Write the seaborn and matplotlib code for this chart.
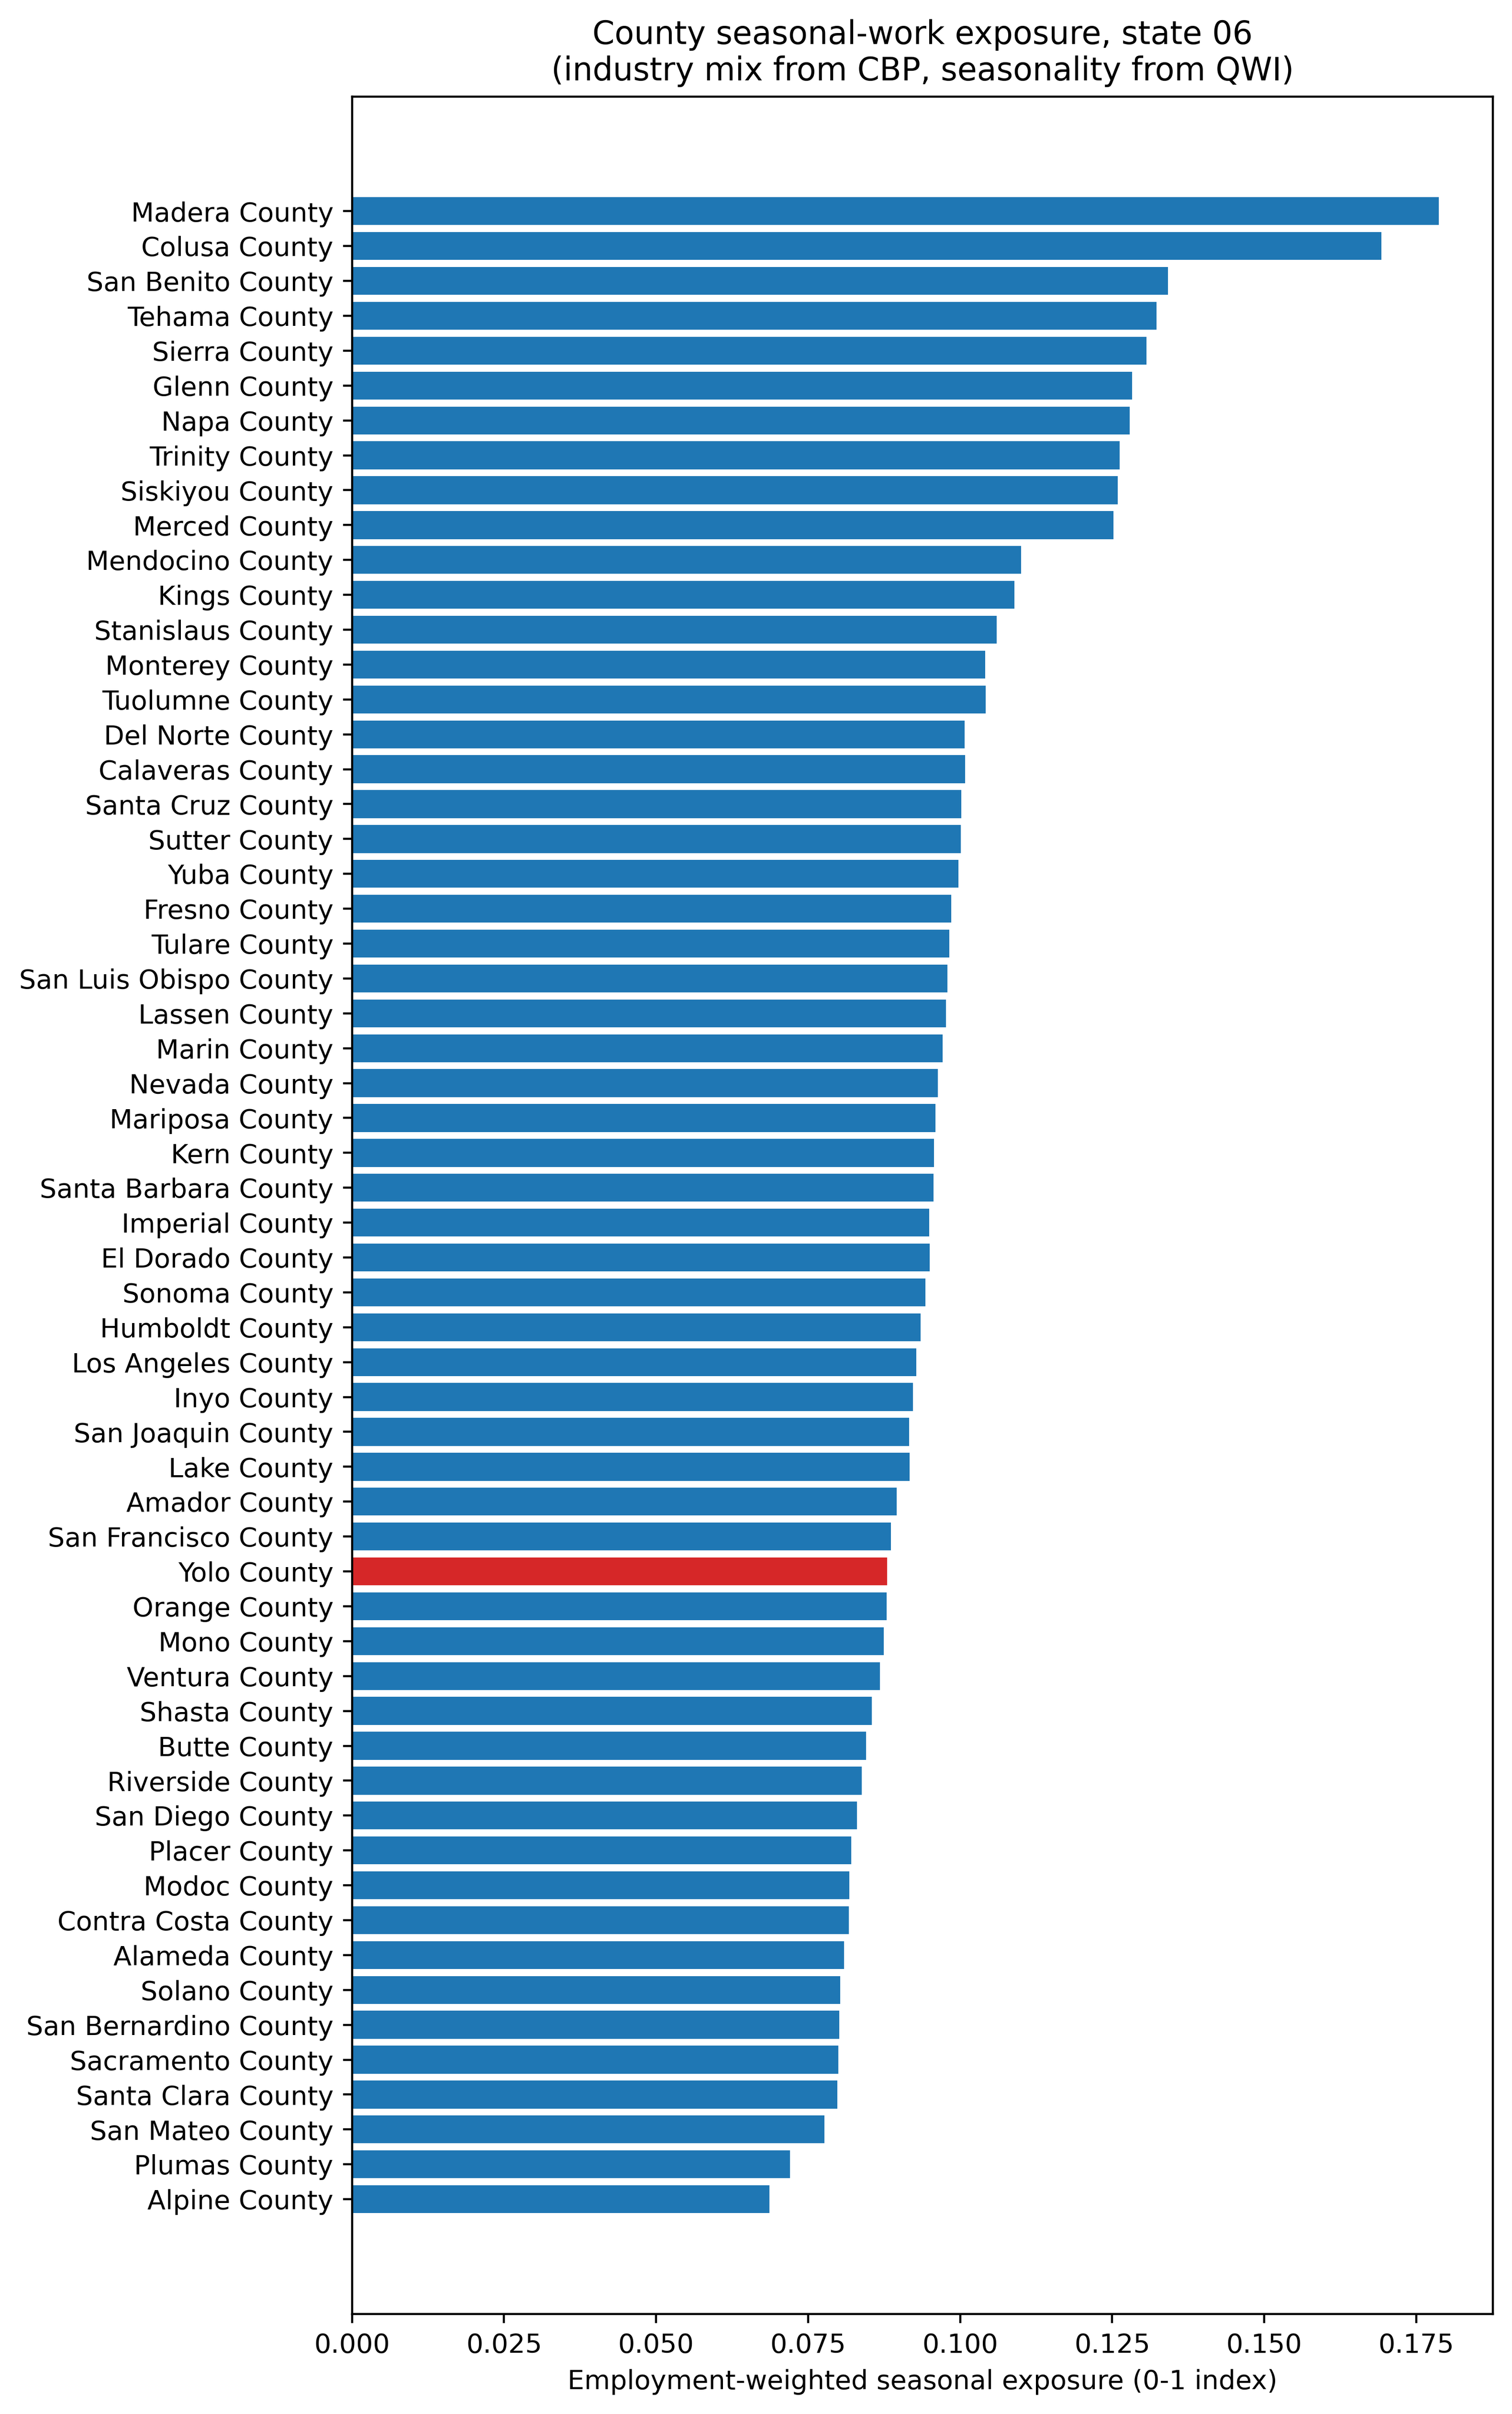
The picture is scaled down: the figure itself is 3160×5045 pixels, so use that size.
import matplotlib
matplotlib.use('Agg')
import matplotlib.pyplot as plt
import seaborn as sns
import pandas as pd

# County names, ranked by exposure (highest first)
counties = [
    'Madera County', 'Colusa County', 'San Benito County', 'Tehama County',
    'Sierra County', 'Glenn County', 'Napa County', 'Trinity County',
    'Siskiyou County', 'Merced County', 'Mendocino County', 'Kings County',
    'Stanislaus County', 'Monterey County', 'Tuolumne County', 'Del Norte County',
    'Calaveras County', 'Santa Cruz County', 'Sutter County', 'Yuba County',
    'Fresno County', 'Tulare County', 'San Luis Obispo County', 'Lassen County',
    'Marin County', 'Nevada County', 'Mariposa County', 'Kern County',
    'Santa Barbara County', 'Imperial County', 'El Dorado County', 'Sonoma County',
    'Humboldt County', 'Los Angeles County', 'Inyo County', 'San Joaquin County',
    'Lake County', 'Amador County', 'San Francisco County', 'Yolo County',
    'Orange County', 'Mono County', 'Ventura County', 'Shasta County',
    'Butte County', 'Riverside County', 'San Diego County', 'Placer County',
    'Modoc County', 'Contra Costa County', 'Alameda County', 'Solano County',
    'San Bernardino County', 'Sacramento County', 'Santa Clara County',
    'San Mateo County', 'Plumas County', 'Alpine County',
]

# Employment-weighted seasonal exposure (0-1 index)
exposure = [
    0.1787, 0.1693, 0.1342, 0.1323, 0.1306, 0.1283, 0.1279, 0.1262,
    0.1259, 0.1252, 0.1100, 0.1089, 0.1060, 0.1041, 0.1042, 0.1007,
    0.1008, 0.1002, 0.1001, 0.0997, 0.0985, 0.0982, 0.0979, 0.0977,
    0.0971, 0.0963, 0.0959, 0.0957, 0.0956, 0.0949, 0.0950, 0.0943,
    0.0935, 0.0928, 0.0922, 0.0916, 0.0917, 0.0896, 0.0886, 0.0880,
    0.0879, 0.0874, 0.0868, 0.0855, 0.0845, 0.0838, 0.0830, 0.0821,
    0.0818, 0.0817, 0.0809, 0.0803, 0.0801, 0.0800, 0.0798, 0.0777,
    0.0720, 0.0686,
]

highlight = 'Yolo County'
base_color = '#1f77b4'
highlight_color = '#d62728'

df = pd.DataFrame({'county': counties, 'exposure': exposure})
colors = [highlight_color if c == highlight else base_color for c in counties]

fig, ax = plt.subplots(figsize=(8, 12.75))
sns.barplot(data=df, x='exposure', y='county', hue='county', palette=colors,
            legend=False, saturation=1, orient='h', ax=ax)

# mimic matplotlib's default 5% margins around the bars
n = len(counties)
pad = 0.05 * (n - 0.2)
ax.set_ylim(n - 0.6 + pad, -0.4 - pad)
ax.set_xlim(0, 1.05 * max(exposure))

ax.set_xlabel('Employment-weighted seasonal exposure (0-1 index)')
ax.set_ylabel('')
ax.set_title('County seasonal-work exposure, state 06\n'
             '(industry mix from CBP, seasonality from QWI)')

plt.tight_layout()
plt.savefig('out.png', dpi=400, bbox_inches='tight')
plt.close()
